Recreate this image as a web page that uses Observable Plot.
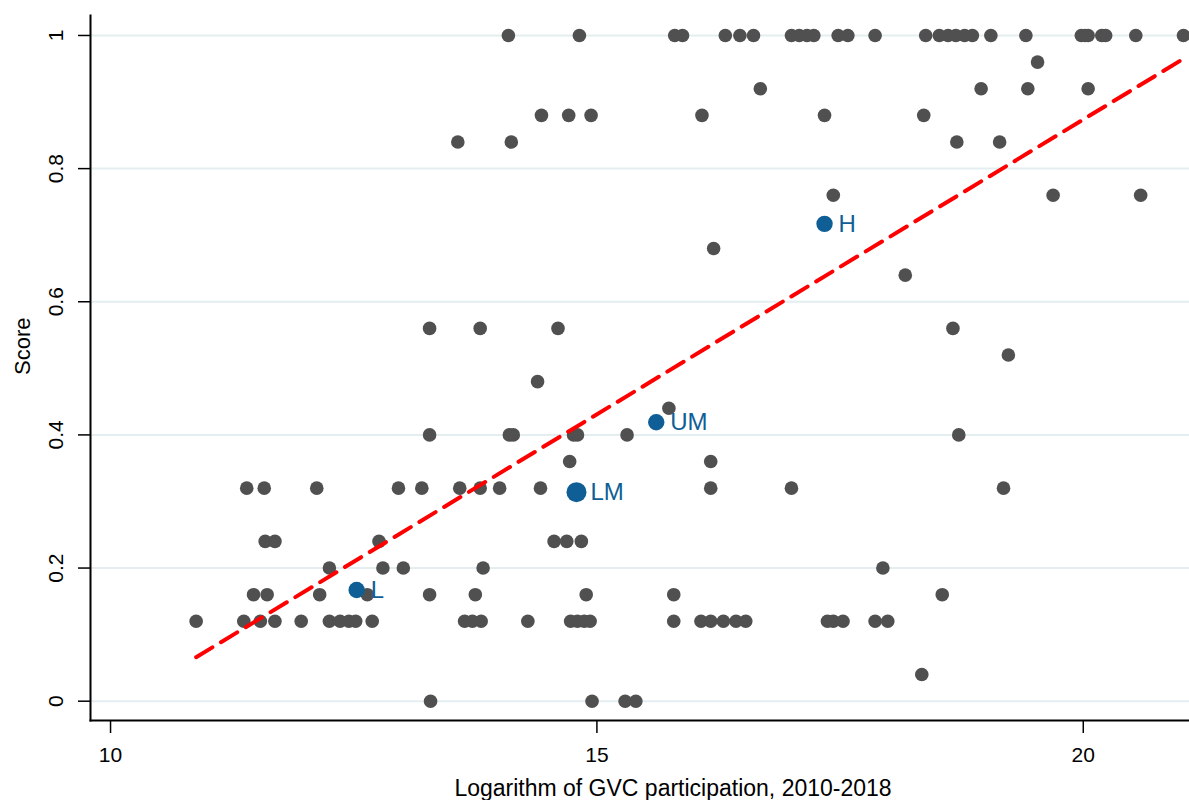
<!DOCTYPE html>
<html><head><meta charset="utf-8">
<script src="https://cdn.jsdelivr.net/npm/d3@7"></script>
<script src="https://cdn.jsdelivr.net/npm/@observablehq/plot@0.6"></script>
<style>html,body{margin:0;padding:0;background:#fff;} svg{display:block}</style>
</head><body><div id="chart"></div>
<script>
// Score levels and the GVC (log) values of the countries at each level
const scoreLevels = [1, 0.96, 0.92, 0.88, 0.84, 0.76, 0.68, 0.64, 0.56, 0.52, 0.48, 0.44, 0.40, 0.36, 0.32, 0.24, 0.20, 0.16, 0.12, 0.04, 0];
const gvcByLevel = [
  [14.09, 14.82, 15.80, 15.88, 16.32, 16.47, 16.61, 17.00, 17.08, 17.16, 17.23, 17.48, 17.58, 17.86, 18.38, 18.52, 18.61, 18.69, 18.78, 18.86, 19.05, 19.41, 19.98, 20.02, 20.05, 20.19, 20.23, 20.54, 21.03],
  [19.53],
  [16.68, 18.95, 19.43, 20.05],
  [14.43, 14.71, 14.94, 16.08, 17.34, 18.36],
  [13.57, 14.12, 18.70, 19.14],
  [17.43, 19.69, 20.59],
  [16.20],
  [18.17],
  [13.28, 13.80, 14.60, 18.66],
  [19.23],
  [14.39],
  [15.74],
  [13.28, 14.10, 14.14, 14.76, 14.80, 15.31, 18.72],
  [14.72, 16.17],
  [11.40, 11.58, 12.12, 12.96, 13.20, 13.59, 13.80, 14.00, 14.42, 16.17, 17.00, 19.18],
  [11.59, 11.69, 12.76, 14.56, 14.69, 14.84],
  [12.25, 12.80, 13.01, 13.83, 17.94],
  [11.47, 11.61, 12.15, 12.64, 13.28, 13.75, 14.89, 15.79, 18.55],
  [10.88, 11.37, 11.54, 11.69, 11.96, 12.25, 12.36, 12.45, 12.52, 12.69, 13.64, 13.72, 13.81, 14.29, 14.73, 14.80, 14.87, 14.93, 15.79, 16.07, 16.17, 16.30, 16.43, 16.53, 17.37, 17.43, 17.53, 17.86, 17.99],
  [18.34],
  [13.29, 14.95, 15.29, 15.40]
];

// Income-group averages
const groupLabels = ["L", "LM", "UM", "H"];
const groupGvc = [12.53, 14.79, 15.61, 17.34];
const groupScore = [0.167, 0.314, 0.419, 0.717];

// Fitted line endpoints
const fitGvc = [10.88, 21.03];
const fitScore = [0.066, 0.965];

const xTicks = [10, 15, 20];
const yTicks = [0, 0.2, 0.4, 0.6, 0.8, 1];
const xTitle = "Logarithm of GVC participation, 2010-2018";
const yTitle = "Score";

const points = [];
scoreLevels.forEach((s, i) => gvcByLevel[i].forEach(g => points.push({gvc: g, score: s})));
const groups = groupLabels.map((l, i) => ({label: l, gvc: groupGvc[i], score: groupScore[i]}));
const fit = fitGvc.map((g, i) => ({gvc: g, score: fitScore[i]}));

const blue = "#0f5f96";
const chart = Plot.plot({
  width: 1189, height: 800,
  marginLeft: 90, marginRight: 0, marginTop: 15, marginBottom: 80,
  style: {fontFamily: "'Liberation Sans', Arial, sans-serif", background: "#fff", color: "#000"},
  x: {domain: [9.794, 21.092]},
  y: {domain: [-0.029, 1.030]},
  r: {type: "identity"},
  marks: [
    Plot.ruleY(yTicks, {stroke: "#e4edf0", strokeWidth: 2}),
    Plot.axisY(yTicks, {tickSize: 12, tickRotate: -90, tickPadding: 16, fontSize: 21, strokeWidth: 1.5,
      tickFormat: d => d === 0 ? "0" : d === 1 ? "1" : d.toFixed(1), label: null}),
    Plot.axisX(xTicks, {tickSize: 13, tickPadding: 14, fontSize: 21, strokeWidth: 1.5, label: null}),
    Plot.frame({anchor: "left", strokeWidth: 2}),
    Plot.frame({anchor: "bottom", strokeWidth: 2}),
    Plot.dot(points, {x: "gvc", y: "score", r: 6.8, fill: "#505050"}),
    Plot.dot(groups, {x: "gvc", y: "score", r: d => d.label === "LM" ? 10 : 8.2, fill: blue}),
    Plot.text(groups, {x: "gvc", y: "score", text: "label", dx: 14, textAnchor: "start", fill: blue, fontSize: 24}),
    Plot.line(fit, {x: "gvc", y: "score", stroke: "#ff0000", strokeWidth: 4, strokeDasharray: "19,10"}),
    Plot.text([yTitle], {frameAnchor: "left", rotate: -90, dx: -68, dy: 7, fontSize: 22}),
    Plot.text([xTitle], {frameAnchor: "bottom", dy: 75, dx: 33, fontSize: 23})
  ]
});
document.getElementById("chart").appendChild(chart);
</script>
</body></html>
